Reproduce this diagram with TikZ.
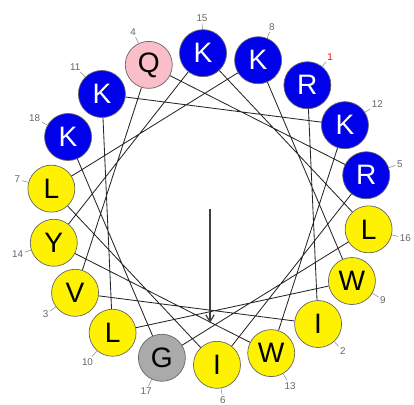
\documentclass[tikz,border=0pt]{standalone}
\usepackage{fontspec}
\setmainfont{Liberation Sans}
\usetikzlibrary{arrows.meta}
\definecolor{wheelblue}{RGB}{0,0,235}
\definecolor{wheelpink}{RGB}{250,190,200}
\definecolor{wheelgray}{RGB}{170,170,170}

\begin{document}
\begin{tikzpicture}[
  font=\fontsize{20}{20}\selectfont,
  res/.style={draw=black!60, circle, line width=0.5pt,
              minimum size=1.175cm, inner sep=0pt},
  basic/.style={res, fill=wheelblue, text=white},
  hydro/.style={res, fill=yellow},
  polar/.style={res, fill=wheelpink},
  gly/.style={res, fill=wheelgray},
  num/.style={font=\fontsize{7}{7}\selectfont, text=black!60, inner sep=1pt},
  turn/.style={black!85, line width=0.6pt},
  moment/.style={-{Straight Barb[length=5pt, width=6pt]}, black!75, line width=0.9pt},
  every pin/.style={num},
  every pin edge/.style={draw=black!45, line width=0.4pt},
  pin distance=0.15cm
]
\useasboundingbox (0,0) rectangle (10.35,10.125);

%% Wheel centre
\coordinate (c) at (5.25,4.9);

\begin{scope}[shift={(c)}]
%% Residues (100 deg per residue)
\node[basic, pin={[text=red]52.5:1}] (r1)  at (52.5:4cm and 3.9cm)   {R};
\node[hydro, pin={-47.5:2}]          (r2)  at (-47.5:4cm and 3.9cm)  {I};
\node[hydro, pin={-147.5:3}]         (r3)  at (-147.5:4cm and 3.9cm) {V};
\node[polar, pin={112.5:4}]          (r4)  at (112.5:4cm and 3.9cm)  {Q};
\node[basic, pin={12.5:5}]           (r5)  at (12.5:4cm and 3.9cm)   {R};
\node[hydro, pin={-87.5:6}]          (r6)  at (-87.5:4cm and 3.9cm)  {I};
\node[hydro, pin={172.5:7}]          (r7)  at (172.5:4cm and 3.9cm)  {L};
\node[basic, pin={72.5:8}]           (r8)  at (72.5:4cm and 3.9cm)   {K};
\node[hydro, pin={-27.5:9}]          (r9)  at (-27.5:4cm and 3.9cm)  {W};
\node[hydro, pin={-127.5:10}]        (r10) at (-127.5:4cm and 3.9cm) {L};
\node[basic, pin={132.5:11}]         (r11) at (132.5:4cm and 3.9cm)  {K};
\node[basic, pin={32.5:12}]          (r12) at (32.5:4cm and 3.9cm)   {K};
\node[hydro, pin={-67.5:13}]         (r13) at (-67.5:4cm and 3.9cm)  {W};
\node[hydro, pin={-167.5:14}]        (r14) at (-167.5:4cm and 3.9cm) {Y};
\node[basic, pin={92.5:15}]          (r15) at (92.5:4cm and 3.9cm)   {K};
\node[hydro, pin={-7.5:16}]          (r16) at (-7.5:4cm and 3.9cm)   {L};
\node[gly,   pin={-107.5:17}]        (r17) at (-107.5:4cm and 3.9cm) {G};
\node[basic, pin={152.5:18}]         (r18) at (152.5:4cm and 3.9cm)  {K};

%% Moment tip
\coordinate (tip) at (0,-2.85);
\end{scope}

%% Backbone, residue to residue
\draw[turn] (r1) -- (r2)   (r2) -- (r3)   (r3) -- (r4)   (r4) -- (r5)
            (r5) -- (r6)   (r6) -- (r7)   (r7) -- (r8)   (r8) -- (r9)
            (r9) -- (r10)  (r10) -- (r11) (r11) -- (r12) (r12) -- (r13)
            (r13) -- (r14) (r14) -- (r15) (r15) -- (r16) (r16) -- (r17)
            (r17) -- (r18);

%% Hydrophobic moment
\draw[moment] (c) -- (tip);

\end{tikzpicture}
\end{document}
